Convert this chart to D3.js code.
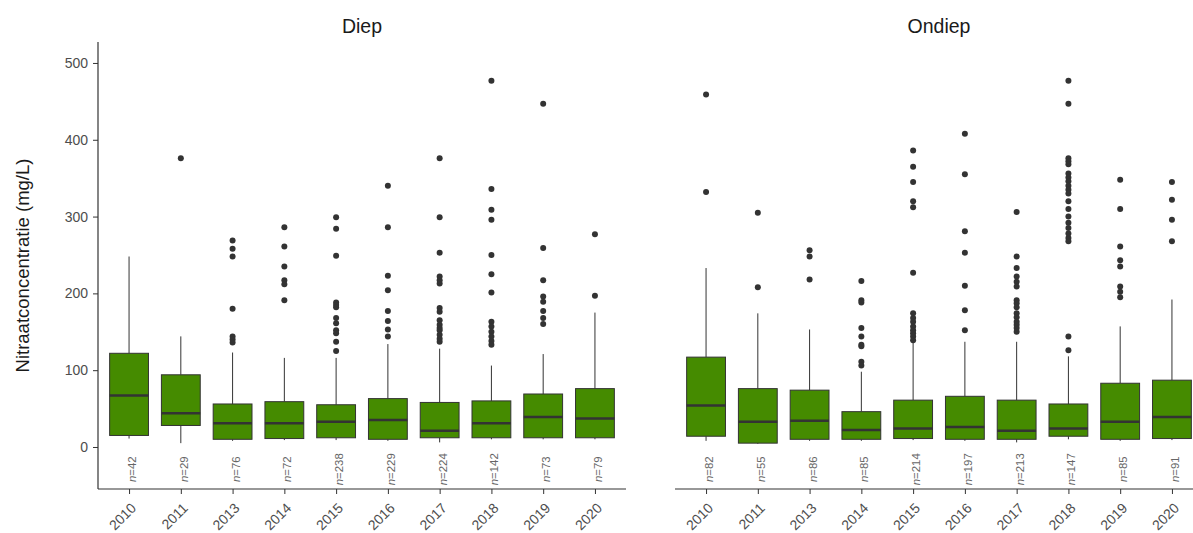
<!DOCTYPE html>
<html><head><meta charset="utf-8">
<script src="https://cdn.jsdelivr.net/npm/d3@7"></script>
<style>body{margin:0;background:#fff;} svg{display:block;font-family:"Liberation Sans",Arial,sans-serif;}</style>
</head><body><svg id="c" width="1193" height="533"></svg>
<script>
const years = ["2010","2011","2013","2014","2015","2016","2017","2018","2019","2020"];
const panels = ["Diep","Ondiep"];
const yTicks = [0,100,200,300,400,500];

// Diep: [whiskerLow, q1, median, q3, whiskerHigh]
const diepStats = [
  [11,15,67,122,248],[5,28,44,94,144],[8,10,31,56,123],[9,11,31,59,116],[9,12,33,55,116],
  [8,10,35,63,134],[6,12,21,58,128],[10,12,31,60,106],[10,12,39,69,121],[10,12,37,76,175]
];
const diepOut = [
  [],[376],[269,258,248,180,144,140,136],[286,261,235,217,212,191],
  [299,284,249,188,185,182,168,161,152,148,137,125],
  [340,286,223,204,177,164,153,144],
  [376,299,253,222,217,213,181,176,165,159,155,152,146,141,137],
  [477,336,309,296,250,225,201,163,157,150,144,138,133],
  [447,259,217,196,189,177,168,160],[277,197]
];
const diepN = [42,29,76,72,238,229,224,142,73,79];

const ondiepStats = [
  [8,14,54,117,233],[4,5,33,76,174],[8,10,34,74,153],[8,10,22,46,98],[9,11,24,61,137],
  [8,10,26,66,137],[6,10,21,61,137],[10,14,24,56,118],[8,10,33,83,157],[9,11,39,87,192]
];
const ondiepOut = [
  [459,332],[305,208],[256,248,218],[216,191,188,155,144,133,131,111,106],
  [386,365,345,320,312,227,174,168,163,157,152,148,144,139],
  [408,355,281,253,210,178,152],
  [306,248,233,222,215,209,191,187,182,174,169,163,159,155,150],
  [477,447,376,372,368,356,351,346,340,335,330,320,310,300,292,285,278,272,268,144,126],
  [348,310,261,243,235,209,202,195],[345,322,296,268]
];
const ondiepN = [82,55,86,85,214,197,213,147,85,91];

const data = [
  {name: panels[0], stats: diepStats, out: diepOut, n: diepN, x0: 98, x1: 626, yaxis: true},
  {name: panels[1], stats: ondiepStats, out: ondiepOut, n: ondiepN, x0: 675, x1: 1203, yaxis: false}
];

const svg = d3.select("#c");
const plotTop = 42, plotBottom = 489;
const y = d3.scaleLinear().domain([-54.7, 527.3]).range([plotBottom, plotTop]);
const fill = "#458B00", line = "#333333", txt = "#4d4d4d";

data.forEach(p => {
  const step = (p.x1 - p.x0) / (years.length - 1 + 1.2);
  const x = d3.scalePoint().domain(years).range([p.x0 + 0.6*step, p.x1 - 0.6*step]);
  const bw = step * 0.75;
  const g = svg.append("g");

  svg.append("text").attr("x", (p.x0 + p.x1)/2).attr("y", 33)
    .attr("text-anchor","middle").attr("font-size", 19.5).attr("fill","#1a1a1a").text(p.name);

  years.forEach((yr, i) => {
    const s = p.stats[i], cx = x(yr);
    g.append("line").attr("x1",cx).attr("x2",cx).attr("y1",y(s[3])).attr("y2",y(s[4]))
      .attr("stroke",line).attr("stroke-width",1);
    g.append("line").attr("x1",cx).attr("x2",cx).attr("y1",y(s[1])).attr("y2",y(s[0]))
      .attr("stroke",line).attr("stroke-width",1);
    g.append("rect").attr("x",cx-bw/2).attr("width",bw).attr("y",y(s[3])).attr("height",y(s[1])-y(s[3]))
      .attr("fill",fill).attr("stroke",line).attr("stroke-width",1);
    g.append("line").attr("x1",cx-bw/2).attr("x2",cx+bw/2).attr("y1",y(s[2])).attr("y2",y(s[2]))
      .attr("stroke",line).attr("stroke-width",2.5);
    p.out[i].forEach(v => {
      g.append("circle").attr("cx",cx).attr("cy",y(v)).attr("r",3).attr("fill",line);
    });
    const ny = y(-29);
    const t = g.append("text").attr("transform",`translate(${cx+7},${ny}) rotate(-90)`)
      .attr("text-anchor","middle").attr("font-size",11.4).attr("fill","#666");
    t.append("tspan").attr("font-style","italic").text("n");
    t.append("tspan").text("=" + p.n[i]);
  });

  const xa = svg.append("g").attr("transform",`translate(0,${plotBottom})`)
    .call(d3.axisBottom(x).tickSize(5).tickSizeOuter(0));
  xa.select(".domain").attr("stroke",line).attr("stroke-width",1.2).attr("d",`M${p.x0},0H${p.x1}`);
  xa.selectAll(".tick line").attr("stroke",line);
  xa.selectAll(".tick text").remove();
  years.forEach(yr => {
    svg.append("text").attr("transform",`translate(${x(yr)+8},${plotBottom+20}) rotate(-45)`)
      .attr("text-anchor","end").attr("font-size",14).attr("fill",txt).text(yr);
  });

  if (p.yaxis) {
    const ya = svg.append("g").attr("transform",`translate(${p.x0},0)`)
      .call(d3.axisLeft(y).tickValues(yTicks).tickSize(5).tickSizeOuter(0).tickPadding(5));
    ya.select(".domain").attr("stroke",line).attr("stroke-width",1.2).attr("d",`M0,${plotTop}V${plotBottom}`);
    ya.selectAll(".tick line").attr("stroke",line);
    ya.selectAll(".tick text").attr("font-size",14).attr("fill",txt);
  }
});

svg.append("text").attr("transform",`translate(29,${(plotTop+plotBottom)/2}) rotate(-90)`)
  .attr("text-anchor","middle").attr("font-size",18.5).attr("fill","#1a1a1a").text("Nitraatconcentratie (mg/L)");
</script></body></html>
